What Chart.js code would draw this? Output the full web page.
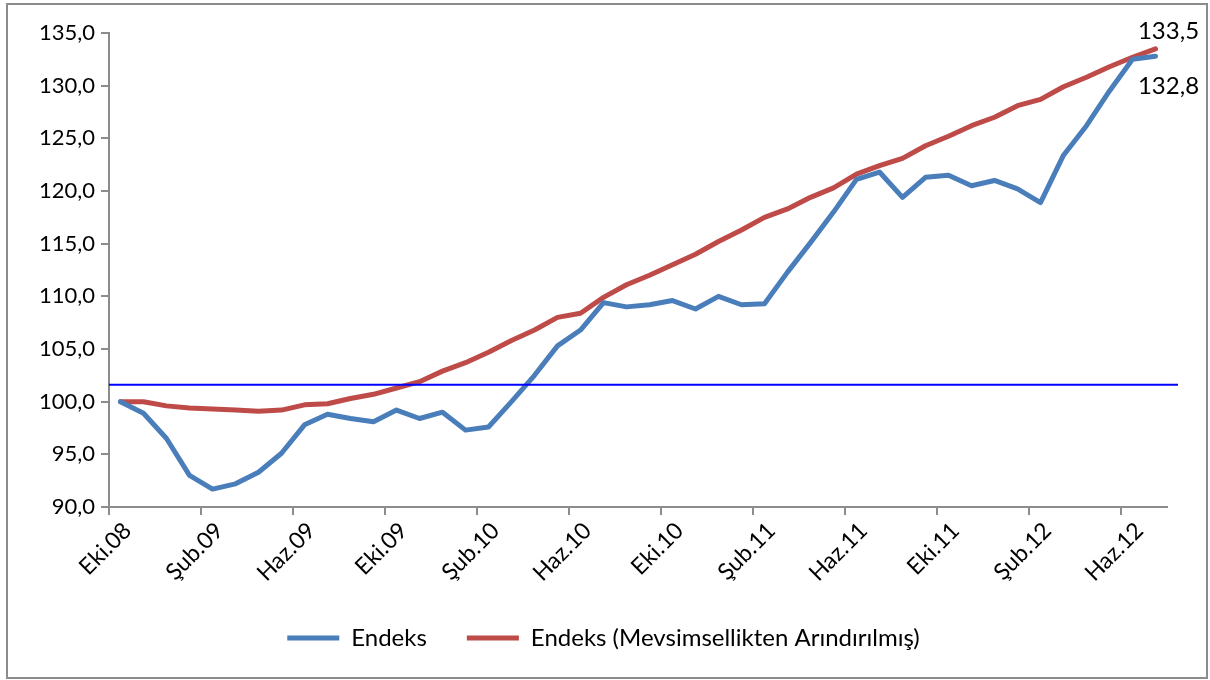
<!DOCTYPE html>
<html lang="tr">
<head>
<meta charset="utf-8">
<title>Endeks</title>
<script src="https://cdn.jsdelivr.net/npm/chart.js@4.4.0/dist/chart.umd.min.js"></script>
<style>
    body { margin: 0; background: #fff; }
    #wrap { position: relative; width: 1210px; height: 680px; }
    #frame {
        position: absolute; left: 6px; top: 3px; width: 1198px; height: 672px;
        border: 2px solid #8c8c8c; pointer-events: none;
    }
</style>
</head>
<body>
<div id="wrap">
    <canvas id="indexChart" width="1210" height="680"></canvas>
    <div id="frame"></div>
</div>
<script>
// Months (Eki.08 - Tem.12)
const months = [
    'Eki.08', 'Kas.08', 'Ara.08',
    'Oca.09', 'Şub.09', 'Mar.09', 'Nis.09', 'May.09', 'Haz.09', 'Tem.09', 'Ağu.09', 'Eyl.09', 'Eki.09', 'Kas.09', 'Ara.09',
    'Oca.10', 'Şub.10', 'Mar.10', 'Nis.10', 'May.10', 'Haz.10', 'Tem.10', 'Ağu.10', 'Eyl.10', 'Eki.10', 'Kas.10', 'Ara.10',
    'Oca.11', 'Şub.11', 'Mar.11', 'Nis.11', 'May.11', 'Haz.11', 'Tem.11', 'Ağu.11', 'Eyl.11', 'Eki.11', 'Kas.11', 'Ara.11',
    'Oca.12', 'Şub.12', 'Mar.12', 'Nis.12', 'May.12', 'Haz.12', 'Tem.12'
];

// Endeks (raw)
const endeks = [
    100.0, 98.9, 96.5, 93.0, 91.7, 92.2, 93.3, 95.1, 97.8, 98.8, 98.4, 98.1,
    99.2, 98.4, 99.0, 97.3, 97.6, 100.0, 102.5, 105.3, 106.8, 109.4, 109.0, 109.2,
    109.6, 108.8, 110.0, 109.2, 109.3, 112.3, 115.1, 118.0, 121.1, 121.8, 119.4, 121.3,
    121.5, 120.5, 121.0, 120.2, 118.9, 123.4, 126.2, 129.5, 132.5, 132.8
];

// Endeks (Mevsimsellikten Arındırılmış)
const endeksSA = [
    100.0, 100.0, 99.6, 99.4, 99.3, 99.2, 99.1, 99.2, 99.7, 99.8, 100.3, 100.7,
    101.3, 101.9, 102.9, 103.7, 104.7, 105.8, 106.8, 108.0, 108.4, 109.9, 111.1, 112.0,
    113.0, 114.0, 115.2, 116.3, 117.5, 118.3, 119.4, 120.3, 121.6, 122.4, 123.1, 124.3,
    125.2, 126.2, 127.0, 128.1, 128.7, 129.9, 130.8, 131.8, 132.7, 133.5
];

// Horizontal reference level and axis range
const refLevel = 101.6;
const yMin = 90;
const yMax = 135;
const yStep = 5;
const labelEvery = 4;

const fontFamily = "Lato, 'Liberation Sans', sans-serif";
const axisGray = '#8c8c8c';

function formatTr(v) {
    return Number(v).toFixed(1).replace('.', ',');
}

// Blue horizontal line drawn from the y scale
const refLinePlugin = {
    id: 'refLine',
    afterDatasetsDraw(chart) {
        const { ctx, chartArea, scales } = chart;
        const y = scales.y.getPixelForValue(refLevel);
        ctx.save();
        ctx.strokeStyle = '#0000ff';
        ctx.lineWidth = 2;
        ctx.beginPath();
        ctx.moveTo(chartArea.left, y);
        ctx.lineTo(chartArea.right + 11, y);
        ctx.stroke();
        ctx.restore();
    }
};

// Value labels at the last point of each series
const endLabelPlugin = {
    id: 'endLabels',
    afterDatasetsDraw(chart) {
        const { ctx } = chart;
        ctx.save();
        ctx.font = '24px ' + fontFamily;
        ctx.fillStyle = '#000';
        ctx.textAlign = 'center';
        ctx.textBaseline = 'middle';
        chart.data.datasets.forEach((ds, di) => {
            if (ds.endOffset === undefined) return;
            const meta = chart.getDatasetMeta(di);
            const last = meta.data.length - 1;
            const pt = meta.data[last];
            ctx.fillText(formatTr(ds.data[last]), pt.x + 13, pt.y + ds.endOffset);
        });
        ctx.restore();
    }
};

function drawChart() {
    const ctx = document.getElementById('indexChart').getContext('2d');
    new Chart(ctx, {
        type: 'line',
        data: {
            labels: months,
            datasets: [{
                label: 'Endeks',
                data: endeks,
                borderColor: '#4a7ebb',
                backgroundColor: '#4a7ebb',
                borderWidth: 5,
                borderCapStyle: 'round',
                borderJoinStyle: 'round',
                pointRadius: 0,
                tension: 0,
                endOffset: 30
            }, {
                label: 'Endeks (Mevsimsellikten Arındırılmış)',
                data: endeksSA,
                borderColor: '#be4b48',
                backgroundColor: '#be4b48',
                borderWidth: 5,
                borderCapStyle: 'round',
                borderJoinStyle: 'round',
                pointRadius: 0,
                tension: 0,
                endOffset: -18
            }]
        },
        options: {
            responsive: false,
            animation: false,
            devicePixelRatio: 1,
            layout: { padding: { left: 40, right: 43, top: 33, bottom: 20 } },
            plugins: {
                tooltip: { enabled: false },
                legend: {
                    position: 'bottom',
                    labels: {
                        usePointStyle: true,
                        pointStyle: 'line',
                        pointStyleWidth: 52,
                        boxHeight: 24,
                        padding: 40,
                        color: '#000',
                        font: { family: fontFamily, size: 24 }
                    }
                }
            },
            scales: {
                x: {
                    offset: true,
                    afterFit(scale) { scale.height = 79; },
                    border: { color: axisGray, width: 2 },
                    grid: {
                        offset: true,
                        drawOnChartArea: false,
                        tickLength: 8,
                        lineWidth: 2,
                        color: c => (c.index % labelEvery === 0 ? axisGray : 'rgba(0,0,0,0)')
                    },
                    ticks: {
                        autoSkip: false,
                        minRotation: 45,
                        maxRotation: 45,
                        padding: 2,
                        labelOffset: 7,
                        color: '#000',
                        font: { family: fontFamily, size: 23 },
                        callback: (v, i) => (i % labelEvery === 0 ? months[i] : '')
                    }
                },
                y: {
                    min: yMin,
                    max: yMax,
                    afterFit(scale) { scale.width = 69; },
                    border: { color: axisGray, width: 2 },
                    grid: {
                        drawOnChartArea: false,
                        tickLength: 8,
                        lineWidth: 2,
                        color: axisGray
                    },
                    ticks: {
                        stepSize: yStep,
                        padding: 6,
                        color: '#000',
                        font: { family: fontFamily, size: 22 },
                        callback: v => formatTr(v)
                    }
                }
            }
        },
        plugins: [refLinePlugin, endLabelPlugin]
    });
}

document.addEventListener('DOMContentLoaded', drawChart);
</script>
</body>
</html>
